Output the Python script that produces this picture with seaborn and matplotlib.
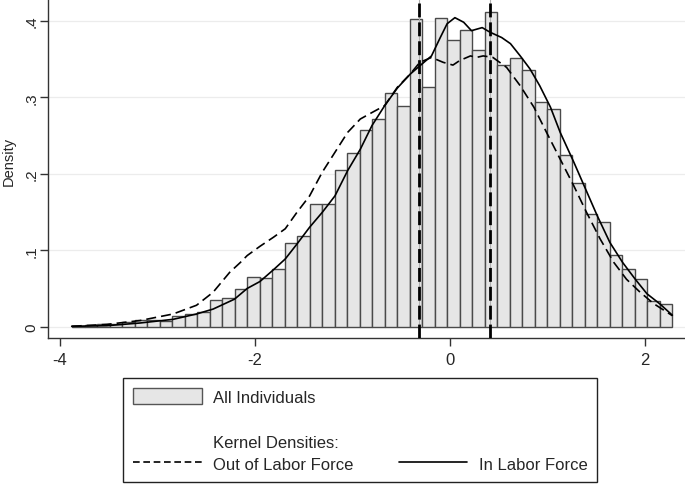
import numpy as np
import pandas as pd
import matplotlib
matplotlib.use('Agg')
import matplotlib.pyplot as plt
from matplotlib.patches import Patch
from matplotlib.lines import Line2D
import seaborn as sns

# histogram: 48 equal-width bins from -3.874 to 2.28, heights
hist_start = -3.874
hist_stop = 2.28
bar_density = [0.0015, 0.002, 0.003, 0.004, 0.0065, 0.009, 0.009, 0.008,
               0.0144, 0.0166, 0.0196, 0.0353, 0.037, 0.049, 0.065, 0.064,
               0.075, 0.110, 0.119, 0.161, 0.161, 0.205, 0.227, 0.257,
               0.272, 0.306, 0.288, 0.402, 0.314, 0.404, 0.375, 0.388,
               0.362, 0.412, 0.342, 0.351, 0.336, 0.294, 0.285, 0.225,
               0.188, 0.147, 0.137, 0.094, 0.075, 0.062, 0.033, 0.030]

# kernel density, in labour force (solid)
in_x = [-3.88, -3.52, -3.18, -2.84, -2.60, -2.43, -2.21, -2.08, -1.95, -1.81,
        -1.69, -1.57, -1.44, -1.31, -1.18, -1.05, -0.92, -0.80, -0.67, -0.54,
        -0.41, -0.31, -0.19, -0.10, -0.03, 0.05, 0.14, 0.22, 0.33, 0.41,
        0.53, 0.62, 0.72, 0.82, 0.92, 1.03, 1.13, 1.27, 1.39, 1.51,
        1.64, 1.77, 1.90, 2.02, 2.15, 2.28]
in_y = [0.0005, 0.0013, 0.0048, 0.0096, 0.0166, 0.023, 0.036, 0.050, 0.059, 0.0745,
        0.0885, 0.108, 0.130, 0.1495, 0.171, 0.204, 0.232, 0.263, 0.289, 0.312,
        0.330, 0.341, 0.354, 0.378, 0.396, 0.404, 0.398, 0.387, 0.391, 0.385,
        0.378, 0.370, 0.354, 0.337, 0.315, 0.287, 0.254, 0.215, 0.180, 0.145,
        0.110, 0.084, 0.062, 0.043, 0.030, 0.015]

# kernel density, out of labour force (dashed)
out_x = [-3.88, -3.52, -3.18, -2.84, -2.60, -2.43, -2.26, -2.15, -2.08, -1.95,
         -1.81, -1.69, -1.57, -1.44, -1.31, -1.18, -1.05, -0.92, -0.80, -0.67,
         -0.54, -0.41, -0.31, -0.19, -0.07, 0.03, 0.10, 0.21, 0.27, 0.34,
         0.44, 0.58, 0.72, 0.86, 0.99, 1.13, 1.27, 1.40, 1.54, 1.68,
         1.81, 1.95, 2.09, 2.28]
out_y = [0.0005, 0.003, 0.008, 0.0166, 0.028, 0.045, 0.071, 0.084, 0.093, 0.105,
         0.117, 0.128, 0.1495, 0.171, 0.202, 0.228, 0.254, 0.2715, 0.280, 0.289,
         0.313, 0.330, 0.3456, 0.352, 0.3456, 0.342, 0.348, 0.354, 0.352, 0.354,
         0.352, 0.339, 0.315, 0.287, 0.254, 0.219, 0.184, 0.1495, 0.1146, 0.084,
         0.062, 0.045, 0.030, 0.0144]

vlines = [-0.315, 0.41]
yticks = [0, 0.1, 0.2, 0.3, 0.4]
ytick_labels = ['0', '.1', '.2', '.3', '.4']
xticks = [-4, -2, 0, 2]

sns.set_theme(style='white')
plt.rcParams['font.family'] = ['Liberation Sans', 'DejaVu Sans']

edges = np.linspace(hist_start, hist_stop, len(bar_density) + 1)
mids = (edges[:-1] + edges[1:]) / 2
hist_df = pd.DataFrame({'z': mids, 'w': bar_density})

fig = plt.figure(figsize=(6.85, 4.85), dpi=100)
ax = fig.add_axes([48.3 / 685, 1 - 339 / 485, 1 - 48.3 / 685, 339 / 485])

sns.histplot(data=hist_df, x='z', weights='w', bins=edges.tolist(), stat='count',
             color='#e6e6e6', edgecolor='#4a4a4a', linewidth=1, alpha=1, ax=ax)

sns.lineplot(x=out_x, y=out_y, color='black', linewidth=1.2, ax=ax)
ax.lines[-1].set_dashes((6, 3))
sns.lineplot(x=in_x, y=in_y, color='black', linewidth=1.2, ax=ax)

for v in vlines:
    ax.axvline(v, color='#b0b0b0', linewidth=0.8, zorder=3)
    ln = ax.axvline(v, color='black', linewidth=2, zorder=4)
    ln.set_dashes((5, 1.8))

ax.set_xlim(-4.12, 2.41)
ax.set_ylim(-0.0148, 0.4284)
ax.set_xticks(xticks)
ax.set_xticklabels([str(t) for t in xticks], fontsize=12)
ax.set_yticks(yticks)
ax.set_yticklabels(ytick_labels, fontsize=11, rotation=90, va='center')
ax.tick_params(axis='x', length=5.5, width=1, color='#333333', pad=4.5, bottom=True)
ax.tick_params(axis='y', length=5.5, width=1, color='#333333', pad=1.5, left=True)
ax.yaxis.grid(True, color='#ececec', linewidth=0.9)
ax.set_axisbelow(True)
ax.set_xlabel('')
ax.set_ylabel('')
for s in ['top', 'right']:
    ax.spines[s].set_visible(False)
for s in ['left', 'bottom']:
    ax.spines[s].set_color('#333333')
    ax.spines[s].set_linewidth(1)

fig.text(8.5 / 685, 1 - 161 / 485, 'Density', rotation=90, ha='center', va='center',
         fontsize=10.5)

blank = Line2D([], [], linestyle='none')
handles = [Patch(facecolor='#e6e6e6', edgecolor='#555555', linewidth=1),
           blank, blank,
           Line2D([], [], color='black', linewidth=1.2, dashes=(4, 2.2)),
           blank, blank, blank,
           Line2D([], [], color='black', linewidth=1.2)]
labels = ['All Individuals', ' ', 'Kernel Densities:', 'Out of Labor Force',
          ' ', ' ', ' ', 'In Labor Force']
leg = fig.legend(handles, labels, ncol=2, loc='upper left',
                 bbox_to_anchor=(123.3 / 685, 1 - 379 / 485), borderaxespad=0,
                 fontsize=12, handlelength=4.1, handleheight=1.1, handletextpad=0.7,
                 columnspacing=2.7, labelspacing=0.35, borderpad=0.6,
                 frameon=True, fancybox=False, framealpha=1)
leg.get_frame().set_edgecolor('#222222')
leg.get_frame().set_linewidth(1)

fig.savefig('out.png', dpi=100)
